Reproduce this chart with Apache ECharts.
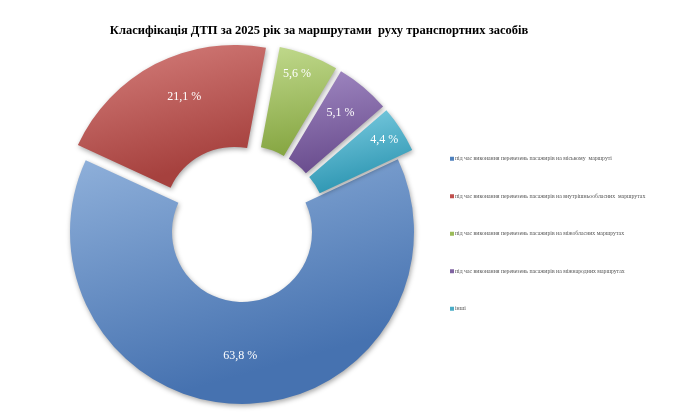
<!DOCTYPE html>
<html><head><meta charset="utf-8">
<script src="https://cdn.jsdelivr.net/npm/echarts@6/dist/echarts.min.js"></script>
<style>html,body{margin:0;padding:0;background:#fff}#c{width:680px;height:417px}</style>
</head><body><div id="c"></div>
<script>
const titleText = 'Класифікація ДТП за 2025 рік за маршрутами  руху транспортних засобів';
const categories = [
  'під час виконання перевезень пасажирів на міському  маршруті',
  'під час виконання перевезень пасажирів на внутрішньообласних  маршрутах',
  'під час виконання перевезень пасажирів на міжобласних маршрутах',
  'під час виконання перевезень пасажирів на міжнародних маршрутах',
  'інші'
];
const values = [63.8, 21.1, 5.6, 5.1, 4.4];
const exploded = [false, true, true, true, true];

// styling only
const palette = [
  ['#8fb0da', '#4672b0'],
  ['#d6807d', '#a6413e'],
  ['#c0d98c', '#86a642'],
  ['#a088c2', '#6a4d8e'],
  ['#80cfe3', '#2f97b3']
];
const legendColors = ['#4f81bd', '#c0504d', '#9bbb59', '#8064a2', '#4bacc6'];
const labelNudge = [[-2, 0], [7, -10], [5, -26], [8, -11], [24, -16]];

const data = categories.map((name, i) => ({
  name,
  value: values[i],
  selected: exploded[i],
  itemStyle: {
    color: {
      type: 'linear', x: 0, y: 0, x2: 0.2, y2: 1,
      colorStops: [{offset: 0, color: palette[i][0]}, {offset: 1, color: palette[i][1]}]
    }
  }
}));

const chart = echarts.init(document.getElementById('c'), null, {renderer: 'canvas'});
chart.setOption({
  backgroundColor: '#ffffff',
  animation: false,
  title: {
    text: titleText,
    left: 314, top: 19,
    textAlign: 'center',
    textStyle: {fontFamily: 'Liberation Serif', fontWeight: 'bold', fontSize: 12.5, color: '#000'}
  },
  legend: {
    orient: 'vertical',
    left: 445, top: 150,
    itemWidth: 4, itemHeight: 4,
    itemGap: 30,
    icon: 'rect',
    selectedMode: false,
    data: categories.map((n, i) => ({name: n, itemStyle: {color: legendColors[i]}})),
    textStyle: {fontFamily: 'Liberation Serif', fontSize: 5.8, color: '#555', lineHeight: 7.5, padding: [0, 0, 0, -4]}
  },
  series: [{
    type: 'pie',
    center: [242, 232],
    radius: [70, 172],
    startAngle: 25,
    clockwise: true,
    selectedMode: 'multiple',
    selectedOffset: 17,
    avoidLabelOverlap: false,
    emphasis: {disabled: true},
    itemStyle: {shadowBlur: 5, shadowColor: 'rgba(0,0,0,0.35)', shadowOffsetX: 1, shadowOffsetY: 2},
    label: {
      show: true,
      position: 'inside',
      formatter: p => p.value.toFixed(1).replace('.', ',') + ' %',
      fontFamily: 'Liberation Serif',
      fontSize: 12,
      color: '#fff'
    },
    labelLayout: p => ({dx: labelNudge[p.dataIndex][0], dy: labelNudge[p.dataIndex][1]}),
    labelLine: {show: false},
    data
  }]
});
</script></body></html>
